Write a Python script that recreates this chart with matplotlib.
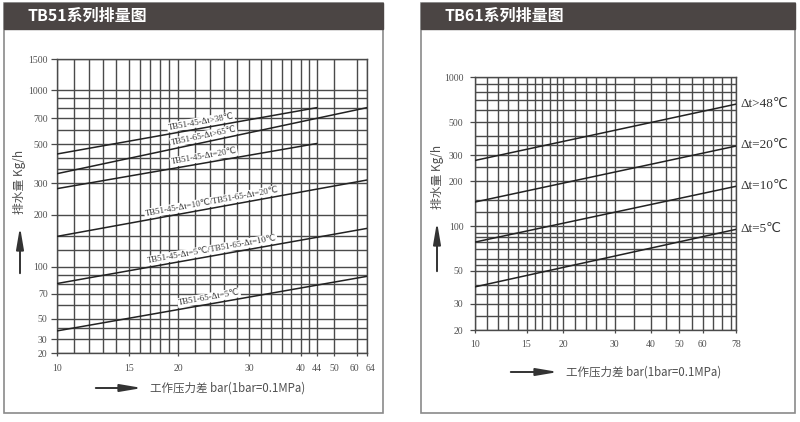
import numpy as np
import matplotlib
matplotlib.use("Agg")
import matplotlib.pyplot as plt
import matplotlib.transforms as mtransforms
from matplotlib.patches import Rectangle, FancyArrowPatch
from matplotlib.ticker import NullFormatter

# ---------------------------------------------------------
# DATA
# ---------------------------------------------------------
# TB51 series: pressure difference (bar) -> discharge (kg/h)
TB51_LABELS = [
    "TB51-45-Δt>38℃",
    "TB51-65-Δt>65℃",
    "TB51-45-Δt=20℃",
    "TB51-45-Δt=10℃/TB51-65-Δt=20℃",
    "TB51-45-Δt=5℃/TB51-65-Δt=10℃",
    "TB51-65-Δt=5℃",
]
TB51_P_START = [10, 10, 10, 10, 10, 10]
TB51_P_END = [44, 64, 44, 64, 64, 64]
TB51_Q_START = [440, 340, 280, 150, 80, 37]
TB51_Q_END = [800, 800, 505, 313, 167, 88]
TB51_LABEL_AT = [22.9, 23.3, 23.3, 24.4, 24.4, 24.0]

TB51_XTICKS = [10, 15, 20, 30, 40, 44, 50, 60, 64]
TB51_XGRID = [11, 12, 13, 14, 16, 17, 18, 19, 22, 24, 26, 28, 32, 34, 36, 38, 42]
TB51_YTICKS = [20, 30, 50, 70, 100, 200, 300, 500, 700, 1000, 1500]
TB51_YGRID = [40, 60, 80, 90, 125, 150, 360, 420, 600, 800, 900]

# TB61 series
TB61_LABELS = ["Δt>48℃", "Δt=20℃", "Δt=10℃", "Δt=5℃"]
TB61_P_START = [10, 10, 10, 10]
TB61_P_END = [78, 78, 78, 78]
TB61_Q_START = [276, 145, 78, 39]
TB61_Q_END = [660, 345, 185, 95]

TB61_XTICKS = [10, 15, 20, 30, 40, 50, 60, 78]
TB61_XGRID = [11, 12, 13, 14, 16, 17, 18, 19, 22, 24, 26, 28, 35, 45, 55, 65, 70, 75]
TB61_YTICKS = [20, 30, 50, 100, 200, 300, 500, 1000]
TB61_YGRID = [25, 35, 40, 55, 60, 70, 78, 85, 90, 125, 150, 250, 350, 400, 600, 700, 800, 900]

# the TB51 chart is printed on an irregular scale: where its labelled ticks sit (px)
TB51_XPOS = [56.7, 128.7, 178.3, 249, 300.7, 316.7, 334.3, 357.3, 366.7]
TB51_YPOS = [353.3, 339.3, 319, 293.7, 266.7, 215, 183.3, 144.3, 118.3, 90, 59.3]

# ---------------------------------------------------------
# STYLE
# ---------------------------------------------------------
W, H = 800, 422
GRID_C = "#4a4a4a"
LINE_C = "#222222"
TEXT_C = "#505050"
HEAD_C = "#4b4544"
BOX_C = "#8a8a8a"
SERIF = ["Liberation Serif", "DejaVu Sans"]
CJK = ["Noto Sans CJK SC", "DejaVu Sans"]


def fx(x):
    return x / W


def fy(y):
    return 1 - y / H


def make_scale(vals, pos):
    lv = np.log10(vals)
    p = np.array(pos, dtype=float)
    if p[0] > p[-1]:
        p = -p

    def fwd(v):
        v = np.asarray(v, dtype=float)
        return np.interp(np.log10(np.clip(v, 1e-9, None)), lv, p)

    def inv(t):
        return 10 ** np.interp(t, p, lv)

    return fwd, inv


def panel_frame(fig, x0, x1, title):
    fig.add_artist(Rectangle((fx(x0), fy(413)), fx(x1 - x0), (413 - 3) / H,
                             transform=fig.transFigure, fill=False,
                             edgecolor=BOX_C, lw=1.2))
    fig.add_artist(Rectangle((fx(x0), fy(29)), fx(x1 - x0), 26 / H,
                             transform=fig.transFigure, facecolor=HEAD_C,
                             edgecolor=HEAD_C, lw=1))
    fig.text(fx(x0 + 23), fy(16), title, color="white", fontsize=11.5,
             fontweight="bold", family=CJK, va="center", ha="left")


def arrow(fig, a, b):
    fig.add_artist(FancyArrowPatch((fx(a[0]), fy(a[1])), (fx(b[0]), fy(b[1])),
                                   transform=fig.transFigure,
                                   arrowstyle="-|>,head_length=1.3,head_width=0.22",
                                   mutation_scale=10, color="#333333", lw=1.4))


def style_grid(ax, xt, xg, yt, yg, ylen, ypad, xpad):
    ax.set_xticks(xt)
    ax.set_xticklabels([str(v) for v in xt])
    ax.set_xticks(xg, minor=True)
    ax.set_yticks(yt)
    ax.set_yticklabels([str(v) for v in yt])
    ax.set_yticks(yg, minor=True)
    ax.xaxis.set_minor_formatter(NullFormatter())
    ax.yaxis.set_minor_formatter(NullFormatter())
    ax.grid(which="both", color=GRID_C, lw=1.0)
    ax.set_axisbelow(True)
    ax.tick_params(which="minor", length=0)
    ax.tick_params(axis="y", which="major", length=ylen, width=0.9,
                   color=GRID_C, pad=ypad, labelsize=7, labelcolor=TEXT_C)
    ax.tick_params(axis="x", which="major", length=2.5, width=0.9,
                   color=GRID_C, pad=xpad, labelsize=7, labelcolor=TEXT_C)
    for lab in ax.get_xticklabels() + ax.get_yticklabels():
        lab.set_family(SERIF)
    for s in ax.spines.values():
        s.set_color(GRID_C)
        s.set_linewidth(1.0)


fig = plt.figure(figsize=(8, 4.22), dpi=100)
fig.patch.set_facecolor("white")

# ---------------------------------------------------------
# LEFT: TB51
# ---------------------------------------------------------
panel_frame(fig, 4, 383, "TB51系列排量图")
ax1 = fig.add_axes([fx(56.7), fy(353.3), (366.7 - 56.7) / W, (353.3 - 59.3) / H])
ax1.set_xscale("function", functions=make_scale(TB51_XTICKS, TB51_XPOS))
ax1.set_yscale("function", functions=make_scale(TB51_YTICKS, TB51_YPOS))
ax1.set_xlim(10, 64)
ax1.set_ylim(20, 1500)
style_grid(ax1, TB51_XTICKS, TB51_XGRID, TB51_YTICKS, TB51_YGRID, 4.5, 2.0, 5.5)

# "60" and "64" sit very close together: push them apart a little
xlabs = ax1.get_xticklabels()
for lab, dx in [(xlabs[-2], -2.0), (xlabs[-1], 2.5)]:
    lab.set_transform(lab.get_transform()
                      + mtransforms.ScaledTranslation(dx / 72, 0, fig.dpi_scale_trans))

for i, lab in enumerate(TB51_LABELS):
    xs = [TB51_P_START[i], TB51_P_END[i]]
    ys = [TB51_Q_START[i], TB51_Q_END[i]]
    ax1.plot(xs, ys, color=LINE_C, lw=1.1, zorder=3)
    p0, p1 = ax1.transData.transform([(xs[0], ys[0]), (xs[1], ys[1])])
    ang = np.degrees(np.arctan2(p1[1] - p0[1], p1[0] - p0[0]))
    px = ax1.transData.transform((TB51_LABEL_AT[i], ys[0]))[0]
    t = (px - p0[0]) / (p1[0] - p0[0])
    py = p0[1] + t * (p1[1] - p0[1])
    xy = ax1.transData.inverted().transform((px, py))
    d = 4.6
    ax1.annotate(lab, xy=xy, xytext=(-np.sin(np.radians(ang)) * d, np.cos(np.radians(ang)) * d),
                 textcoords="offset points", ha="center", va="center",
                 rotation=ang, rotation_mode="anchor", fontsize=6.3,
                 family=SERIF, color="#333333", zorder=4,
                 bbox=dict(facecolor="white", edgecolor="none", pad=0.6))

fig.text(fx(20), fy(182), "排水量 Kg/h", rotation=90, ha="center", va="center",
         fontsize=8.5, family=CJK, color=TEXT_C)
arrow(fig, (20, 276), (20, 224))
fig.text(fx(150), fy(388), "工作压力差 bar(1bar=0.1MPa)", ha="left", va="center",
         fontsize=8.3, family=CJK, color=TEXT_C)
arrow(fig, (93, 388), (145, 388))

# ---------------------------------------------------------
# RIGHT: TB61
# ---------------------------------------------------------
panel_frame(fig, 421, 795, "TB61系列排量图")
ax2 = fig.add_axes([fx(475), fy(330), (736 - 475) / W, (330 - 77.3) / H])
ax2.set_xscale("log")
ax2.set_yscale("log")
ax2.set_xlim(10, 78)
ax2.set_ylim(20, 1000)
style_grid(ax2, TB61_XTICKS, TB61_XGRID, TB61_YTICKS, TB61_YGRID, 3.8, 4.5, 4.5)

for i, lab in enumerate(TB61_LABELS):
    xs = [TB61_P_START[i], TB61_P_END[i]]
    ys = [TB61_Q_START[i], TB61_Q_END[i]]
    ax2.plot(xs, ys, color=LINE_C, lw=1.1, zorder=3)
    ax2.annotate(lab, xy=(xs[1], ys[1]), xytext=(3, 0.5), textcoords="offset points",
                 ha="left", va="center", fontsize=9.5, family=SERIF,
                 color="#333333", annotation_clip=False)

fig.text(fx(437), fy(177), "排水量 Kg/h", rotation=90, ha="center", va="center",
         fontsize=8.5, family=CJK, color=TEXT_C)
arrow(fig, (437, 274), (437, 219))
fig.text(fx(566), fy(372), "工作压力差 bar(1bar=0.1MPa)", ha="left", va="center",
         fontsize=8.3, family=CJK, color=TEXT_C)
arrow(fig, (508, 372), (561, 372))

fig.savefig("out.png", dpi=100)
